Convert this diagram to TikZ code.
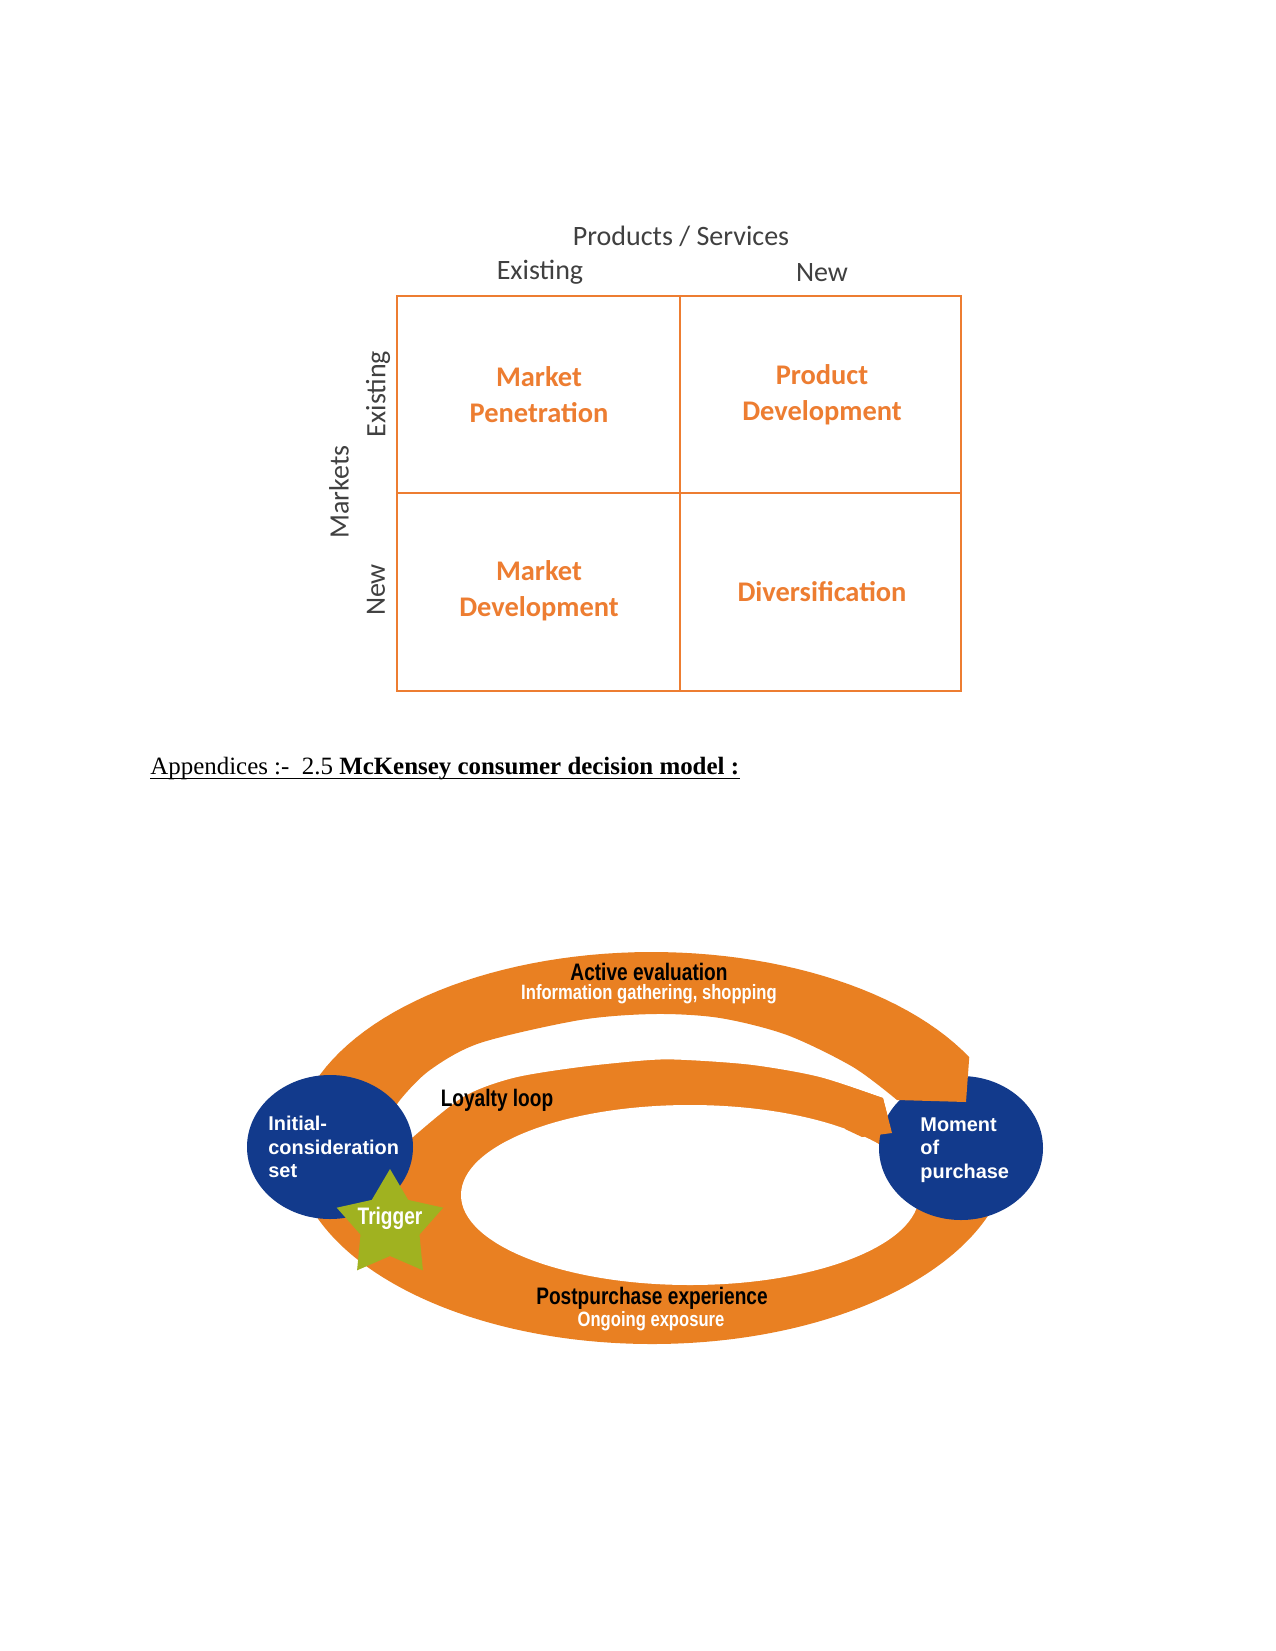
\documentclass[tikz,border=0pt]{standalone}
\usepackage{fontspec}
\setmainfont{Liberation Serif}
\newfontfamily\calibri{Carlito}
\newfontfamily\arialfont{Liberation Sans}
\newfontfamily\condbold[FakeStretch=0.8]{Liberation Sans Bold}
\begin{document}
\begin{tikzpicture}[
    x=0.48bp, y=-0.48bp,
    mxline/.style={draw=mxorange, line width=1.3bp},
    axislabel/.style={text=darkgrey, font=\calibri\fontsize{13.5}{16}\selectfont},
    cell/.style={text=mxorange, font=\calibri\bfseries\fontsize{13.7}{17.3}\selectfont, align=center},
    bandtitle/.style={text=black, font=\condbold\fontsize{11.5}{13}\selectfont, inner sep=0pt},
    bandsub/.style={text=white, font=\condbold\fontsize{10}{12}\selectfont, inner sep=0pt},
    circtext/.style={text=white, font=\arialfont\bfseries\fontsize{9.6}{11.2}\selectfont, align=left, anchor=west, inner sep=0pt}
]
\definecolor{mxorange}{RGB}{237,125,49}
\definecolor{darkgrey}{RGB}{64,64,64}
\definecolor{ringorange}{RGB}{233,128,34}
\definecolor{ringblue}{RGB}{18,58,140}
\definecolor{triggergreen}{RGB}{160,178,32}

\fill[white] (0,0) rectangle (1275,1651);
\useasboundingbox (0,0) rectangle (1275,1651);

% ======================
% Ansoff matrix
% ======================
\draw[mxline] (397,296) rectangle (961,691);
\draw[mxline] (680,296) -- (680,691);
\draw[mxline] (397,493) -- (961,493);

\node[axislabel] (ps) at (681,236) {Products / Services};
\node[axislabel] (colold) at (540,272) {Existing};
\node[axislabel] (colnew) at (822,273) {New};
\node[axislabel, rotate=90] (mk) at (339,492) {Markets};
\node[axislabel, rotate=90] (rowold) at (378,394) {Existing};
\node[axislabel, rotate=90] (rownew) at (376,590) {New};

\node[cell] (mp) at (539,395) {Market\\Penetration};
\node[cell] (pd) at (822,395) {Product\\Development};
\node[cell] (md) at (539,591) {Market\\Development};
\node[cell] (dv) at (822,592) {Diversification};

% ======================
% Heading
% ======================
\node[anchor=base west, inner sep=0pt, font=\fontsize{12}{14}\selectfont] (heading) at (150,774)
    {Appendices :-\ \ 2.5 \textbf{McKensey consumer decision model :\ }};
\draw[line width=0.6bp] ([yshift=-2bp]heading.base west) -- ([yshift=-2bp]heading.base east);

% ======================
% Decision ring
% ======================
\fill[ringorange] (652,1148) ellipse [x radius=358, y radius=196];

% gap above the loyalty loop
\fill[white] (300,1150) -- (390,1150) -- plot[smooth] coordinates {(413,1137) (463,1097) (513,1078) (580,1067)
    (650,1060) (687,1060) (753,1065) (820,1077) (883,1098)}
    -- (892,1133) -- (940,1135) -- (1040,1104) -- (1040,930) -- (300,930) -- cycle;

% inner hole
\fill[white] (690,1195) ellipse [x radius=229, y radius=90];

% moment of purchase
\fill[ringblue] (961,1148) ellipse [x radius=82, y radius=72];

% active evaluation band, over the circle
\fill[ringorange] plot[domain=170:27.6, samples=60] ({652+358*cos(\x)},{1148-196*sin(\x)})
    -- (966,1102) -- plot[smooth] coordinates {(897,1100) (853,1067) (787,1035) (720,1018) (655,1014)
    (580,1020) (480,1043) (430,1070) (400,1100) (385,1125)} -- cycle;

% loyalty loop tip
\fill[ringorange] (847,1086) -- (883,1098) -- (892,1133) -- (862,1137) -- (845,1129) -- cycle;

% initial consideration set
\fill[ringblue] (330,1147) ellipse [x radius=83, y radius=72];

% trigger star
\begin{scope}[shift={(390,1225)}, yscale=-1]
\fill[triggergreen] (90:56) -- (126:31) -- (162:56) -- (198:31) -- (234:56) -- (270:31)
    -- (306:56) -- (342:31) -- (18:56) -- (54:31) -- cycle;
\end{scope}

% ======================
% Ring labels
% ======================
\node[bandtitle] (active) at (649,972) {Active evaluation};
\node[bandsub] (activesub) at (649,994) {Information gathering, shopping};
\node[bandtitle] (loyalty) at (497,1100) {Loyalty loop};
\node[bandtitle] (post) at (652,1298) {Postpurchase experience};
\node[bandsub] (postsub) at (651,1321) {Ongoing exposure};
\node[bandtitle, text=white] (trigger) at (390,1218) {Trigger};
\node[circtext] (initial) at (268,1147) {Initial-\\consideration\\set};
\node[circtext] (moment) at (920,1150) {Moment\\of\\purchase};

\end{tikzpicture}
\end{document}
